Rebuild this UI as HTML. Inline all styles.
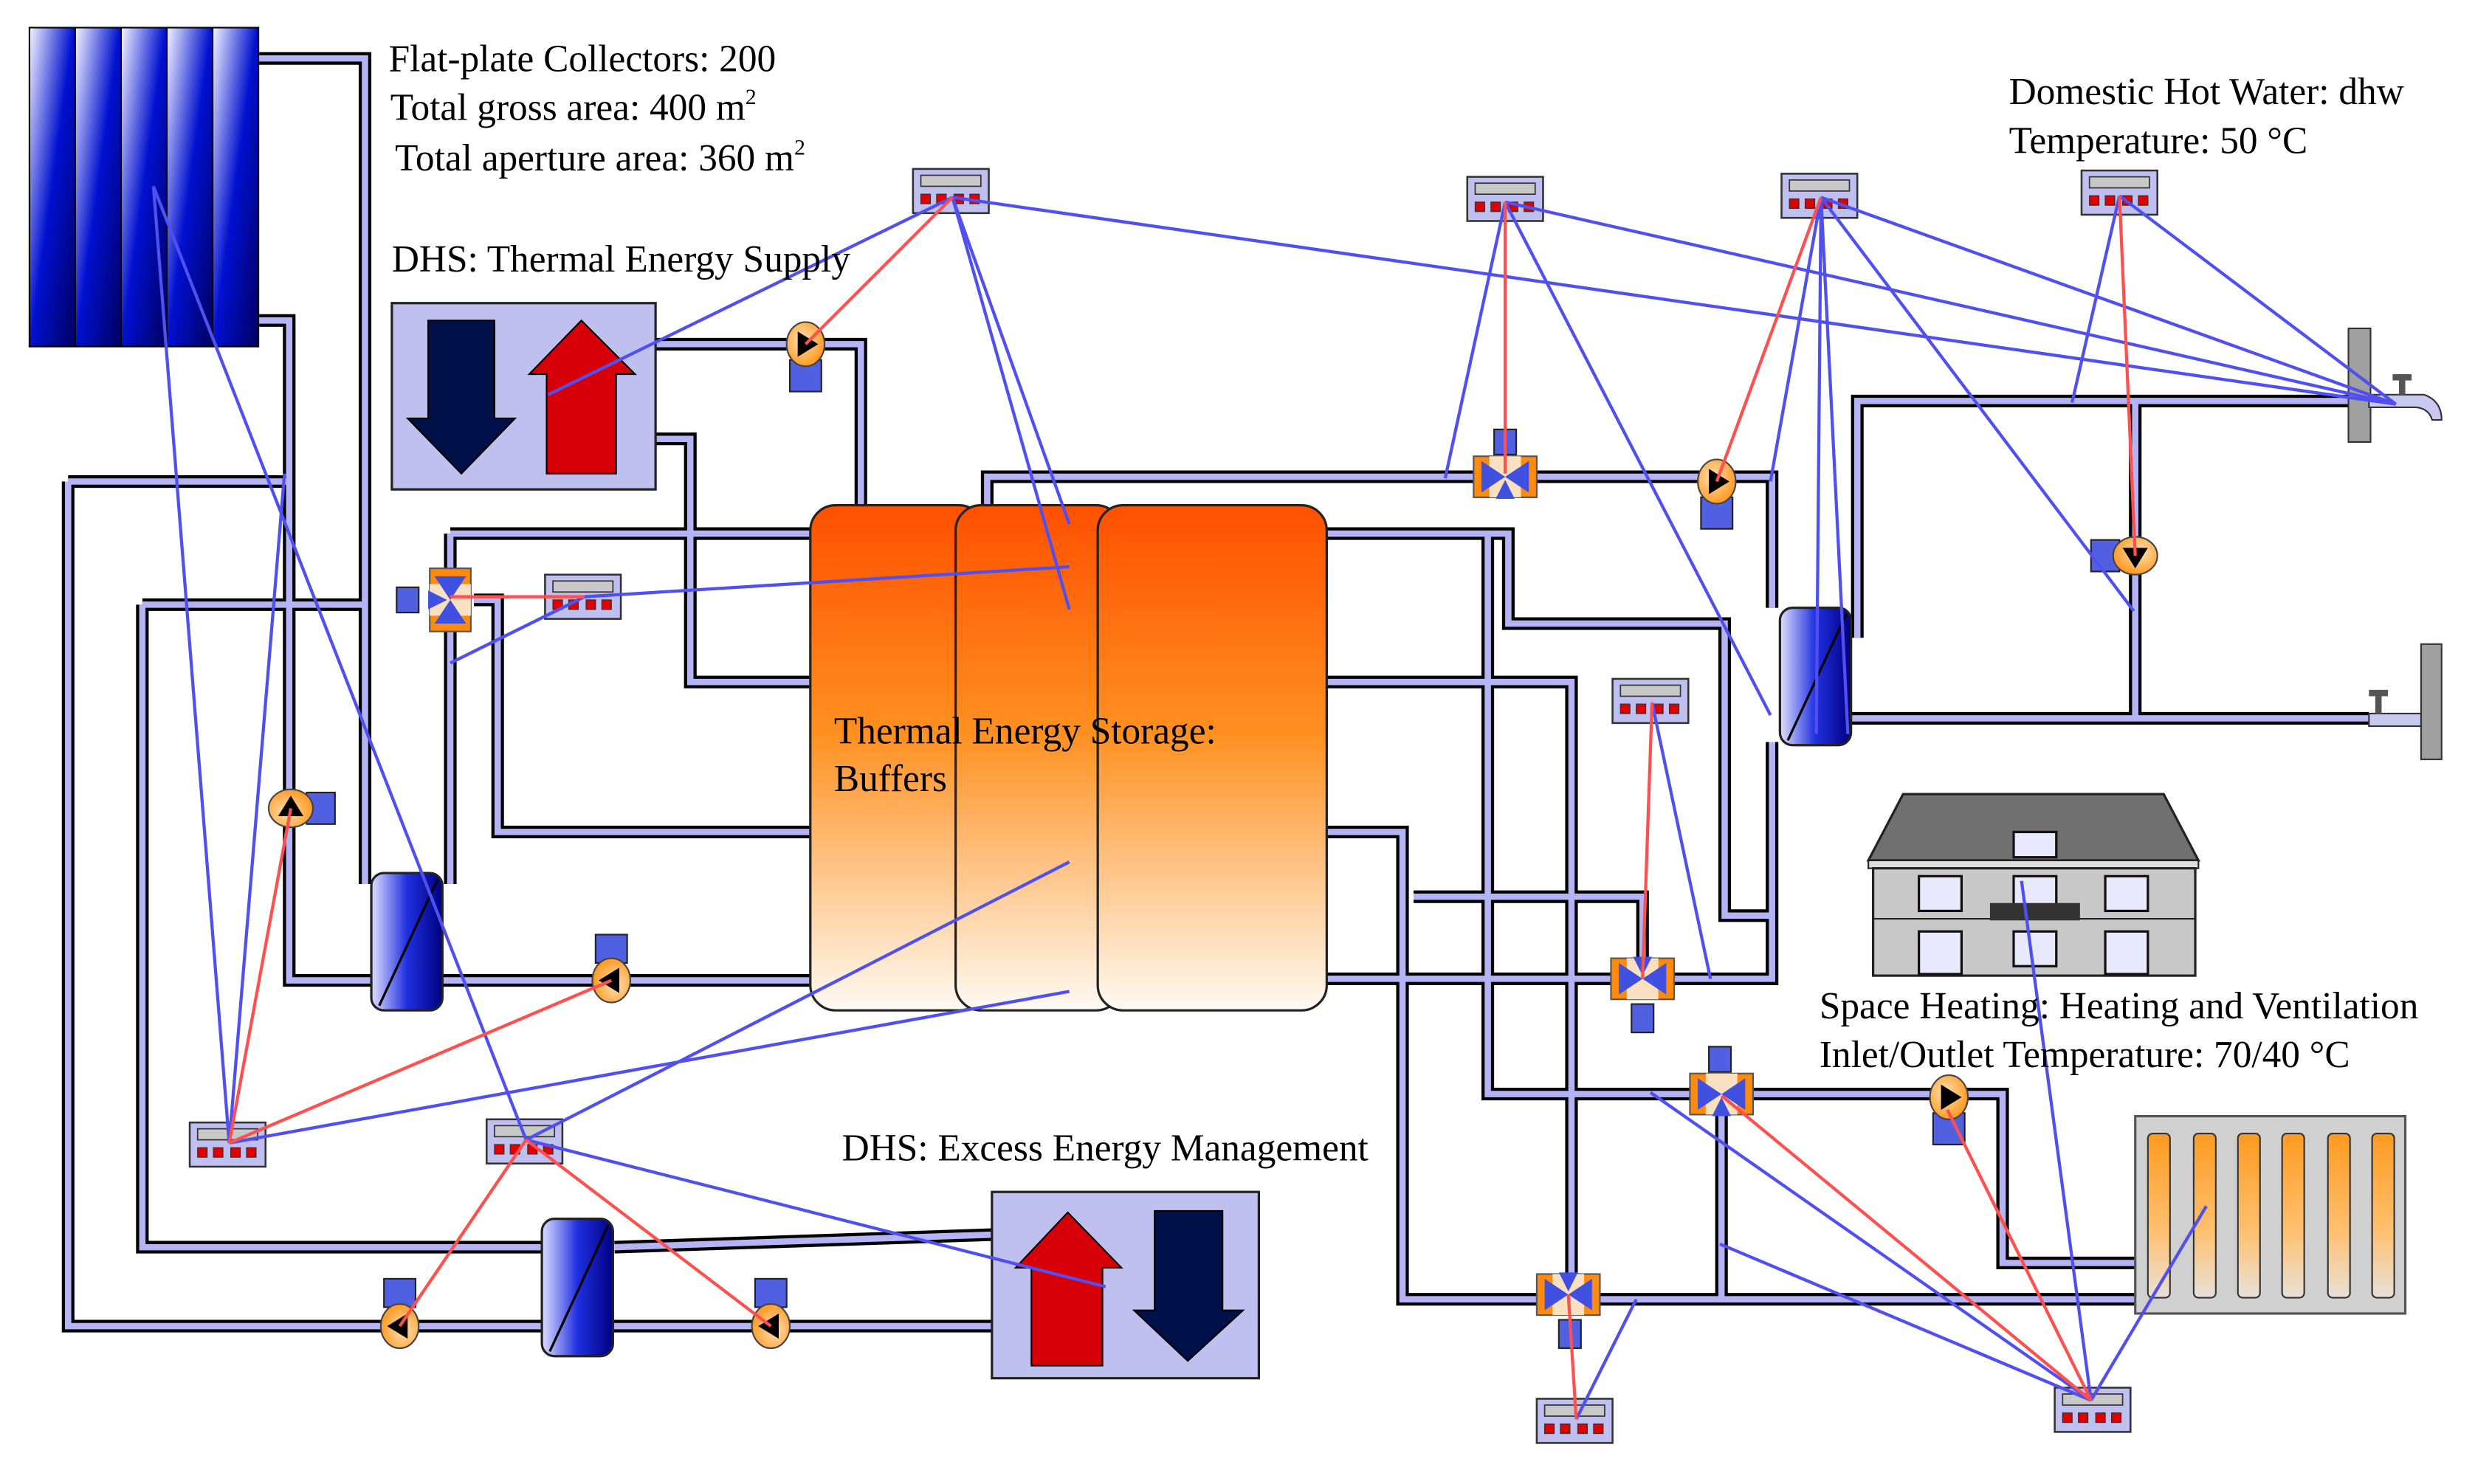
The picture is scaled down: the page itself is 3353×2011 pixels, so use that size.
<!DOCTYPE html>
<html><head><meta charset="utf-8"><style>
html,body{margin:0;padding:0;background:#fff;}
svg{display:block;}
text{font-family:"Liberation Serif",serif;font-size:24px;fill:#000;}
</style></head><body>
<svg width="3353" height="2011" viewBox="0 0 1567 940" xmlns="http://www.w3.org/2000/svg">
<defs>
<linearGradient id="col" x1="0" y1="0" x2="1" y2="1"><stop offset="0" stop-color="#f0f0ff"/><stop offset="0.5" stop-color="#0010d0"/><stop offset="1" stop-color="#000060"/></linearGradient>
<linearGradient id="tank" x1="0" y1="0" x2="0" y2="1"><stop offset="0" stop-color="#ff5000"/><stop offset="0.45" stop-color="#ff9020"/><stop offset="1" stop-color="#fffaf2"/></linearGradient>
<linearGradient id="hx" x1="0" y1="0" x2="1" y2="0"><stop offset="0" stop-color="#e0e0ff"/><stop offset="0.5" stop-color="#2030e0"/><stop offset="1" stop-color="#000080"/></linearGradient>
<linearGradient id="rad" x1="0" y1="0" x2="0" y2="1"><stop offset="0" stop-color="#ff9a20"/><stop offset="0.6" stop-color="#ffc070"/><stop offset="1" stop-color="#e8e0d8"/></linearGradient>
<radialGradient id="pump" cx="0.4" cy="0.4" r="0.7"><stop offset="0" stop-color="#ffe0b0"/><stop offset="1" stop-color="#ff9010"/></radialGradient>
<g id="pipes" fill="none">
<polyline points="164,37 231,37 231,560"/>
<polyline points="164,203 183,203 183,621 235,621"/>
<polyline points="280,621 513,621"/>
<polyline points="43,305 183,305"/>
<polyline points="43,305 43,840 630,840"/>
<polyline points="90,383 231,383"/>
<polyline points="90,383 90,790 343,790"/>
<polyline points="389,790 630,782"/>
<polyline points="285,338 513,338"/>
<polyline points="285,338 285,560"/>
<polyline points="300,380 315,380 315,527 513,527"/>
<polyline points="415,218 545,218 545,320"/>
<polyline points="415,278 437,278 437,432 513,432"/>
<polyline points="625,320 625,302 1122,302 1122,385"/>
<polyline points="840,338 955,338 955,395 1092,395 1092,580 1122,580"/>
<polyline points="942,338 942,693 1268,693 1268,800 1352,800"/>
<polyline points="840,432 995,432 995,820"/>
<polyline points="840,527 888,527 888,823 1352,823"/>
<polyline points="840,620 1122,620 1122,470"/>
<polyline points="895,568 1040,568 1040,620"/>
<polyline points="1090,693 1090,823"/>
<polyline points="1176,404 1176,254 1500,254"/>
<polyline points="1172,455 1500,455"/>
<polyline points="1352,254 1352,455"/>
</g>
<g id="ctl"><rect x="0" y="0" width="48" height="28" fill="#c0c0f0" stroke="#333" stroke-width="1.2"/><rect x="5" y="4" width="38" height="7" fill="#c8c8c8" stroke="#333" stroke-width="0.8"/><rect x="5" y="16" width="6" height="6" fill="#e00000" stroke="#333" stroke-width="0.6"/><rect x="15" y="16" width="6" height="6" fill="#e00000" stroke="#333" stroke-width="0.6"/><rect x="26" y="16" width="6" height="6" fill="#e00000" stroke="#333" stroke-width="0.6"/><rect x="36" y="16" width="6" height="6" fill="#e00000" stroke="#333" stroke-width="0.6"/></g>
<g id="pmp"><ellipse cx="0" cy="0" rx="12" ry="14" fill="url(#pump)" stroke="#444" stroke-width="1"/><polygon points="-5,-8 -5,8 8,0" fill="#000"/></g>
<g id="vlv"><rect x="-20" y="-13" width="40" height="26" fill="#ff8a10" stroke="#555" stroke-width="1"/><rect x="-10" y="-13" width="20" height="26" fill="#f8e0c0"/><polygon points="-15,-10 -15,10 0,0" fill="#4050e0"/><polygon points="15,-10 15,10 0,0" fill="#4050e0"/><polygon points="-6,14 6,14 0,2" fill="#4050e0"/></g>
<g id="hxg"><rect x="0" y="0" width="45" height="87" rx="8" fill="url(#hx)" stroke="#222" stroke-width="1.5"/><line x1="5" y1="84" x2="42" y2="4" stroke="#000" stroke-width="1.5"/></g>
</defs>

<rect x="18" y="17" width="146" height="203" fill="#000" />
<rect x="19" y="18" width="28" height="201" fill="url(#col)"/>
<rect x="48" y="18" width="28" height="201" fill="url(#col)"/>
<rect x="77" y="18" width="28" height="201" fill="url(#col)"/>
<rect x="106" y="18" width="28" height="201" fill="url(#col)"/>
<rect x="135" y="18" width="28" height="201" fill="url(#col)"/>

<use href="#pipes" stroke="#000" stroke-width="8"/>
<use href="#pipes" stroke="#b4b4f4" stroke-width="4"/>

<rect x="513" y="320" width="110" height="320" rx="16" fill="url(#tank)" stroke="#222" stroke-width="1.5"/>
<rect x="605" y="320" width="105" height="320" rx="16" fill="url(#tank)" stroke="#222" stroke-width="1.5"/>
<rect x="695" y="320" width="145" height="320" rx="16" fill="url(#tank)" stroke="#222" stroke-width="1.5"/>

<rect x="248" y="192" width="167" height="118" fill="#c0c0f0" stroke="#222" stroke-width="1.5"/>
<polygon points="271,203 313,203 313,265 326,265 292,300 258,265 271,265" fill="#001048" stroke="#000"/>
<polygon points="368,203 402,237 390,237 390,300 346,300 346,237 335,237" fill="#d80008" stroke="#000"/>

<rect x="628" y="755" width="169" height="118" fill="#c0c0f0" stroke="#222" stroke-width="1.5"/>
<polygon points="676,768 710,803 698,803 698,865 653,865 653,803 643,803" fill="#d80008" stroke="#000"/>
<polygon points="731,767 774,767 774,830 787,830 752,862 718,830 731,830" fill="#001048" stroke="#000"/>

<use href="#hxg" x="235" y="553"/>
<use href="#hxg" x="1127" y="385"/>
<use href="#hxg" x="343" y="772"/>

<polygon points="1205,503 1370,503 1392,545 1183,545" fill="#707070" stroke="#222" stroke-width="1.5"/>
<rect x="1183" y="545" width="209" height="5" fill="#ddd" stroke="#222"/>
<rect x="1186" y="550" width="204" height="68" fill="#c8c8c8" stroke="#222" stroke-width="1.5"/>
<line x1="1186" y1="582" x2="1390" y2="582" stroke="#222"/>
<g fill="#e8e8ff" stroke="#111" stroke-width="1.5">
<rect x="1275" y="527" width="27" height="16"/>
<rect x="1215" y="555" width="27" height="22"/><rect x="1275" y="555" width="27" height="22"/><rect x="1333" y="555" width="27" height="22"/>
<rect x="1215" y="590" width="27" height="27"/><rect x="1275" y="590" width="27" height="22"/><rect x="1333" y="590" width="27" height="27"/>
</g>
<rect x="1260" y="572" width="57" height="11" fill="#333"/>

<rect x="1352" y="707" width="171" height="125" fill="#d0d0d0" stroke="#555" stroke-width="1.5"/>
<g fill="url(#rad)" stroke="#333" stroke-width="1">
<rect x="1360" y="718" width="14" height="104" rx="3"/><rect x="1389" y="718" width="14" height="104" rx="3"/><rect x="1417" y="718" width="14" height="104" rx="3"/><rect x="1445" y="718" width="14" height="104" rx="3"/><rect x="1474" y="718" width="14" height="104" rx="3"/><rect x="1502" y="718" width="14" height="104" rx="3"/>
</g>

<rect x="1487" y="208" width="14" height="72" fill="#a0a0a0" stroke="#333"/>
<path d="M1500,250 L1535,250 Q1546,254 1546,266 L1540,266 Q1538,259 1530,258 L1500,258 Z" fill="#c8c8f0" stroke="#333"/>
<rect x="1515" y="237" width="12" height="4" fill="#555"/><rect x="1519" y="240" width="4" height="10" fill="#555"/>
<rect x="1533" y="408" width="13" height="73" fill="#a0a0a0" stroke="#333"/>
<path d="M1500,452 L1533,452 L1533,460 L1500,460 Z" fill="#c8c8f0" stroke="#333"/>
<rect x="1500" y="437" width="12" height="4" fill="#555"/><rect x="1504" y="440" width="4" height="12" fill="#555"/>

<g fill="#5060e0" stroke="#222">
<rect x="500" y="228" width="20" height="20"/><rect x="1077" y="315" width="20" height="20"/>
<rect x="1324" y="342" width="18" height="20"/><rect x="194" y="502" width="18" height="20"/>
<rect x="377" y="592" width="20" height="18"/><rect x="243" y="810" width="20" height="18"/>
<rect x="478" y="810" width="20" height="18"/><rect x="1224" y="705" width="20" height="20"/>
<rect x="946" y="272" width="14" height="16"/><rect x="1033" y="636" width="14" height="18"/>
<rect x="1082" y="663" width="14" height="16"/><rect x="987" y="836" width="14" height="18"/>
<rect x="251" y="372" width="14" height="16"/>
</g>
<use href="#pmp" transform="translate(510,218)"/>
<use href="#pmp" transform="translate(1087,305)"/>
<use href="#pmp" transform="translate(1352,352) rotate(90)"/>
<use href="#pmp" transform="translate(184,512) rotate(-90)"/>
<use href="#pmp" transform="translate(387,621) rotate(180)"/>
<use href="#pmp" transform="translate(253,840) rotate(180)"/>
<use href="#pmp" transform="translate(488,840) rotate(180)"/>
<use href="#pmp" transform="translate(1234,695)"/>
<use href="#vlv" transform="translate(285,380) rotate(90)"/>
<use href="#vlv" transform="translate(953,302)"/>
<use href="#vlv" transform="translate(1040,620) rotate(180)"/>
<use href="#vlv" transform="translate(1090,693)"/>
<use href="#vlv" transform="translate(993,820) rotate(180)"/>

<use href="#ctl" x="578" y="107"/>
<use href="#ctl" x="929" y="112"/>
<use href="#ctl" x="1128" y="110"/>
<use href="#ctl" x="1318" y="108"/>
<use href="#ctl" x="345" y="364"/>
<use href="#ctl" x="1021" y="430"/>
<use href="#ctl" x="120" y="711"/>
<use href="#ctl" x="308" y="709"/>
<use href="#ctl" x="973" y="886"/>
<use href="#ctl" x="1301" y="879"/>

<g stroke="#5050f0" stroke-width="2" fill="none">
<line x1="603" y1="125" x2="347" y2="250"/>
<line x1="603" y1="125" x2="677" y2="332"/>
<line x1="603" y1="125" x2="677" y2="386"/>
<line x1="603" y1="125" x2="1517" y2="256"/>
<line x1="370" y1="378" x2="677" y2="359"/>
<line x1="370" y1="378" x2="285" y2="420"/>
<line x1="953" y1="128" x2="915" y2="303"/>
<line x1="953" y1="128" x2="1121" y2="453"/>
<line x1="953" y1="128" x2="1517" y2="256"/>
<line x1="1153" y1="125" x2="1121" y2="305"/>
<line x1="1153" y1="125" x2="1150" y2="465"/>
<line x1="1153" y1="125" x2="1170" y2="465"/>
<line x1="1153" y1="125" x2="1351" y2="387"/>
<line x1="1153" y1="125" x2="1517" y2="256"/>
<line x1="1342" y1="124" x2="1312" y2="255"/>
<line x1="1342" y1="124" x2="1517" y2="256"/>
<line x1="1046" y1="445" x2="1083" y2="620"/>
<line x1="145" y1="724" x2="97" y2="118"/>
<line x1="145" y1="724" x2="180" y2="300"/>
<line x1="145" y1="724" x2="677" y2="628"/>
<line x1="333" y1="722" x2="97" y2="118"/>
<line x1="333" y1="722" x2="677" y2="546"/>
<line x1="333" y1="722" x2="700" y2="815"/>
<line x1="998" y1="899" x2="1036" y2="823"/>
<line x1="1324" y1="887" x2="1089" y2="788"/>
<line x1="1324" y1="887" x2="1045" y2="692"/>
<line x1="1324" y1="887" x2="1280" y2="558"/>
<line x1="1324" y1="887" x2="1397" y2="764"/>
</g>
<g stroke="#ff5050" stroke-width="2" fill="none">
<line x1="603" y1="125" x2="510" y2="218"/>
<line x1="370" y1="378" x2="285" y2="378"/>
<line x1="953" y1="128" x2="953" y2="300"/>
<line x1="1153" y1="125" x2="1087" y2="305"/>
<line x1="1342" y1="124" x2="1352" y2="352"/>
<line x1="1046" y1="445" x2="1040" y2="620"/>
<line x1="145" y1="724" x2="184" y2="512"/>
<line x1="145" y1="724" x2="387" y2="621"/>
<line x1="333" y1="722" x2="253" y2="840"/>
<line x1="333" y1="722" x2="488" y2="840"/>
<line x1="998" y1="899" x2="993" y2="820"/>
<line x1="1324" y1="887" x2="1090" y2="694"/>
<line x1="1324" y1="887" x2="1233" y2="703"/>
</g>

<text x="246" y="45">Flat-plate Collectors: 200</text>
<text x="247" y="76">Total gross area: 400 m<tspan font-size="14" dy="-10">2</tspan></text>
<text x="250" y="108">Total aperture area: 360 m<tspan font-size="14" dy="-10">2</tspan></text>
<text x="248" y="172">DHS: Thermal Energy Supply</text>
<text x="528" y="471">Thermal Energy Storage:</text>
<text x="528" y="501">Buffers</text>
<text x="533" y="735">DHS: Excess Energy Management</text>
<text x="1272" y="66">Domestic Hot Water: dhw</text>
<text x="1272" y="97">Temperature: 50 °C</text>
<text x="1152" y="645">Space Heating: Heating and Ventilation</text>
<text x="1152" y="676">Inlet/Outlet Temperature: 70/40 °C</text>
</svg>
</body></html>
